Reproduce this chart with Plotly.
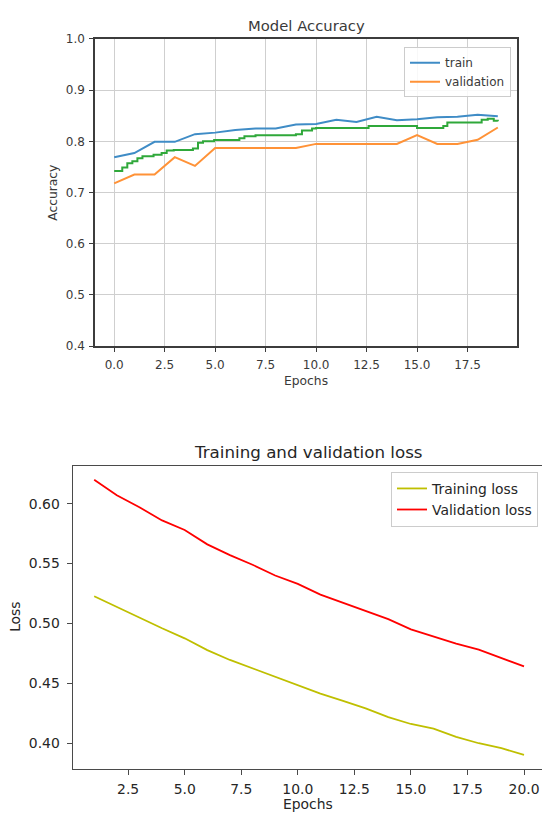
import plotly.graph_objects as go

# ---------------- data ----------------
acc_epochs = list(range(20))
train_acc = [0.769, 0.777, 0.799, 0.799, 0.814, 0.817, 0.822, 0.825, 0.825, 0.833,
             0.834, 0.842, 0.838, 0.848, 0.841, 0.843, 0.847, 0.848, 0.852, 0.849]
val_acc = [0.718, 0.735, 0.735, 0.769, 0.752, 0.787, 0.787, 0.787, 0.787, 0.787,
           0.795, 0.795, 0.795, 0.795, 0.795, 0.812, 0.795, 0.795, 0.803, 0.827]
# third (unlabelled) green step curve
green_x = [0.0, 0.4, 0.65, 0.9, 1.15, 1.4, 1.95, 2.35, 2.6, 2.95, 3.9, 4.15, 4.4, 4.95,
           6.2, 6.45, 7.0, 9.0, 9.3, 9.8, 10.0, 12.6, 15.0, 16.3, 16.5, 18.2, 18.5, 18.8, 19.0]
green_y = [0.742, 0.749, 0.757, 0.761, 0.767, 0.771, 0.774, 0.777, 0.782, 0.783, 0.786, 0.797,
           0.800, 0.8025, 0.806, 0.810, 0.812, 0.814, 0.821, 0.825, 0.826, 0.830, 0.826, 0.830,
           0.837, 0.842, 0.844, 0.840, 0.839]

loss_epochs = list(range(1, 21))
train_loss = [0.5227, 0.5137, 0.5049, 0.4959, 0.4875, 0.4776, 0.4694, 0.4623, 0.4549, 0.4480,
              0.4413, 0.4353, 0.4290, 0.4216, 0.4159, 0.4120, 0.4052, 0.3998, 0.3957, 0.3900]
val_loss = [0.620, 0.607, 0.597, 0.586, 0.578, 0.566, 0.557, 0.549, 0.540, 0.533,
            0.524, 0.517, 0.510, 0.5035, 0.495, 0.489, 0.483, 0.478, 0.4707, 0.464]

acc_yticks = [0.4, 0.5, 0.6, 0.7, 0.8, 0.9, 1.0]
acc_xticks = [0.0, 2.5, 5.0, 7.5, 10.0, 12.5, 15.0, 17.5]
loss_yticks = [0.40, 0.45, 0.50, 0.55, 0.60]
loss_xticks = [2.5, 5.0, 7.5, 10.0, 12.5, 15.0, 17.5, 20.0]

# ---------------- layout helpers ----------------
W, H = 542, 818
def px(x):
    return x / W
def py(y):
    return 1 - y / H

FONT = "DejaVu Sans"
TOP_TXT = "#3a3a3a"
BOT_TXT = "#262626"

fig = go.Figure()

fig.add_trace(go.Scatter(x=acc_epochs, y=train_acc, mode="lines", name="train",
                         line=dict(color="#3f8cc6", width=2), xaxis="x", yaxis="y",
                         legend="legend"))
fig.add_trace(go.Scatter(x=acc_epochs, y=val_acc, mode="lines", name="validation",
                         line=dict(color="#ff9237", width=2), xaxis="x", yaxis="y",
                         legend="legend"))
fig.add_trace(go.Scatter(x=green_x, y=green_y, mode="lines", name="",
                         line=dict(color="#2fa83a", width=2, shape="hv"),
                         xaxis="x", yaxis="y", showlegend=False))

fig.add_trace(go.Scatter(x=loss_epochs, y=train_loss, mode="lines", name="Training loss",
                         line=dict(color="#bfbf00", width=1.8), xaxis="x2", yaxis="y2",
                         legend="legend2"))
fig.add_trace(go.Scatter(x=loss_epochs, y=val_loss, mode="lines", name="Validation loss",
                         line=dict(color="#ff0000", width=1.8), xaxis="x2", yaxis="y2",
                         legend="legend2"))

# ranges (matplotlib-style 5% margins)
n_acc = acc_epochs[-1] - acc_epochs[0]
acc_xr = [acc_epochs[0] - 0.05 * n_acc, acc_epochs[-1] + 0.05 * n_acc]
n_loss = loss_epochs[-1] - loss_epochs[0]
loss_xr_full = [loss_epochs[0] - 0.05 * n_loss, loss_epochs[-1] + 0.05 * n_loss]
# bottom axes is cropped by the picture edge on the right
bl, br_full, br_vis = 72.7, 545.5, 542.0
loss_xr = [loss_xr_full[0],
           loss_xr_full[0] + (loss_xr_full[1] - loss_xr_full[0]) * (br_vis - bl) / (br_full - bl)]
lmin = min(min(train_loss), min(val_loss))
lmax = max(max(train_loss), max(val_loss))
lpad = 0.05 * (lmax - lmin)
loss_yr = [lmin - lpad, lmax + lpad]

top_axis_common = dict(showline=True, linecolor="#3c3c3c", linewidth=1.5, mirror=True,
                       ticks="outside", ticklen=4, tickwidth=1, tickcolor="#3c3c3c",
                       showgrid=True, gridcolor="#cfcfcf", gridwidth=1.3, zeroline=False,
                       tickfont=dict(family=FONT, size=12, color=TOP_TXT))
bot_axis_common = dict(showline=True, linecolor="#4a4a4a", linewidth=1.3,
                       ticks="outside", ticklen=5, tickwidth=1, tickcolor="#4a4a4a",
                       showgrid=False, zeroline=False,
                       tickfont=dict(family=FONT, size=13.9, color=BOT_TXT))

fig.update_layout(
    width=W, height=H,
    margin=dict(l=0, r=0, t=0, b=0),
    paper_bgcolor="white", plot_bgcolor="white",
    xaxis=dict(domain=[px(95), px(517)], range=acc_xr, tickvals=acc_xticks,
               tickformat=".1f", anchor="y", ticklabelstandoff=3, **top_axis_common),
    yaxis=dict(domain=[py(345), py(32.5)], range=[0.4, 1.0], tickvals=acc_yticks,
               tickformat=".1f", anchor="x", ticklabelstandoff=2, **top_axis_common),
    xaxis2=dict(domain=[px(bl), 1.0], range=loss_xr, tickvals=loss_xticks,
                tickformat=".1f", anchor="y2", mirror=True, ticklabelstandoff=2,
                **bot_axis_common),
    yaxis2=dict(domain=[py(775), py(467)], range=loss_yr, tickvals=loss_yticks,
                tickformat=".2f", anchor="x2", mirror=False, ticklabelstandoff=4,
                **bot_axis_common),
    legend=dict(x=px(511), y=py(41), xanchor="right", yanchor="top",
                bgcolor="rgba(255,255,255,0.85)", bordercolor="#cccccc", borderwidth=1,
                font=dict(family=FONT, size=12, color=TOP_TXT), tracegroupgap=0),
    legend2=dict(x=px(538), y=py(473), xanchor="right", yanchor="top",
                 bgcolor="rgba(255,255,255,0.85)", bordercolor="#cccccc", borderwidth=1,
                 font=dict(family=FONT, size=13.9, color=BOT_TXT), tracegroupgap=0),
    annotations=[
        dict(text="Model Accuracy", x=px(306), y=py(18.5), xref="paper", yref="paper",
             showarrow=False, xanchor="center", yanchor="middle",
             font=dict(family=FONT, size=14.8, color=TOP_TXT)),
        dict(text="Accuracy", x=px(53), y=py(189), xref="paper", yref="paper",
             showarrow=False, xanchor="center", yanchor="middle", textangle=-90,
             font=dict(family=FONT, size=12.3, color=TOP_TXT)),
        dict(text="Epochs", x=px(306), y=py(381), xref="paper", yref="paper",
             showarrow=False, xanchor="center", yanchor="middle",
             font=dict(family=FONT, size=12.3, color=TOP_TXT)),
        dict(text="Training and validation loss", x=px(308), y=py(453), xref="paper",
             yref="paper", showarrow=False, xanchor="center", yanchor="middle",
             font=dict(family=FONT, size=16.7, color=BOT_TXT)),
        dict(text="Loss", x=px(15.5), y=py(621), xref="paper", yref="paper",
             showarrow=False, xanchor="center", yanchor="middle", textangle=-90,
             font=dict(family=FONT, size=13.9, color=BOT_TXT)),
        dict(text="Epochs", x=px(308), y=py(802), xref="paper", yref="paper",
             showarrow=False, xanchor="center", yanchor="top", borderpad=0,
             font=dict(family=FONT, size=13.9, color=BOT_TXT)),
    ],
)

# remove the page's default body margin so the figure sits at the window's corner
fig.write_html("out.html",
               config={"displayModeBar": False},
               post_script="document.body.style.margin='0';"
                           "document.body.style.overflow='hidden';")
